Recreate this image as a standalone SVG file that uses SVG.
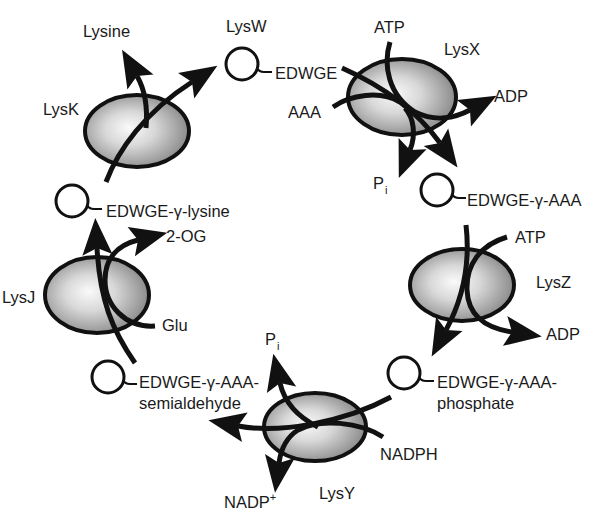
<svg xmlns="http://www.w3.org/2000/svg" width="600" height="520" viewBox="0 0 600 520">
<style>
text{font-family:"Liberation Sans",Arial,sans-serif;font-size:16.5px;fill:#1a1a1a}
.enz{fill:url(#g);stroke:#111;stroke-width:4}
.car{fill:#fff;stroke:#111;stroke-width:3}
.tail{fill:none;stroke:#111;stroke-width:2}
.ln{fill:none;stroke:#111;stroke-width:5}
.ar{marker-end:url(#ah)}
.sub{font-size:11px;fill:#1a1a1a}
</style>
<defs>
<radialGradient id="g" cx="0.45" cy="0.5" r="0.6" fx="0.42" fy="0.45">
<stop offset="0" stop-color="#fafafa"/>
<stop offset="0.4" stop-color="#d8d8d8"/>
<stop offset="1" stop-color="#7f7f7f"/>
</radialGradient>
<marker id="ah" markerUnits="userSpaceOnUse" markerWidth="44" markerHeight="40" viewBox="-2 -16 38 32" refX="6" refY="0" orient="auto">
<path d="M0,-13 L32,0 L0,13 L6,0 Z" fill="#111"/>
</marker>
</defs>

<g id="LysK"><ellipse class="enz" cx="137" cy="131" rx="52" ry="36"/><text x="43" y="115">LysK</text></g>
<g id="LysX"><ellipse class="enz" cx="402" cy="97" rx="54" ry="38"/><text x="444" y="55">LysX</text></g>
<g id="LysZ"><ellipse class="enz" cx="462" cy="285" rx="52" ry="36"/><text x="536" y="288">LysZ</text></g>
<g id="LysY"><ellipse class="enz" cx="315" cy="427" rx="51" ry="34"/><text x="319" y="499">LysY</text></g>
<g id="LysJ"><ellipse class="enz" cx="97" cy="295" rx="52" ry="38"/><text x="2" y="303">LysJ</text></g>

<g id="LysW"><circle class="car" cx="242" cy="64" r="16"/><path class="tail" d="M257,68 q2,4 7,4 h8"/><text x="226" y="32">LysW</text><text x="275" y="79">EDWGE</text></g>
<g id="EDWGE-AAA"><circle class="car" cx="437" cy="190" r="16"/><path class="tail" d="M452,194 q2,4 7,4 h7"/><text x="467" y="206">EDWGE-γ-AAA</text></g>
<g id="EDWGE-AAA-phosphate"><circle class="car" cx="404" cy="373" r="16"/><path class="tail" d="M419,377 q2,4 7,4 h8"/><text x="437" y="388">EDWGE-γ-AAA-</text><text x="437" y="409">phosphate</text></g>
<g id="EDWGE-AAA-semialdehyde"><circle class="car" cx="108" cy="377" r="16"/><path class="tail" d="M123,380 q2,4 7,4 h7"/><text x="139" y="388">EDWGE-γ-AAA-</text><text x="139" y="409">semialdehyde</text></g>
<g id="EDWGE-lysine"><circle class="car" cx="72" cy="201" r="16"/><path class="tail" d="M87,205 q2,4 7,4 h8"/><text x="106" y="217">EDWGE-γ-lysine</text></g>

<g id="connectors">
<!-- LysK -->
<path class="ln ar" d="M106,182 C118,150 145,112 192,82"/>
<path class="ln ar" d="M146,128 C148,106 145,90 137,76"/>
<text x="83" y="37">Lysine</text>
<!-- LysX -->
<path class="ln" d="M333,107 C350,95 380,90 400,102"/>
<path class="ln ar" d="M342,68 C378,84 415,108 440,143"/>
<path class="ln ar" d="M390,42 C383,65 388,95 415,112 C435,122 455,118 470,110"/>
<path class="ln ar" d="M405,108 C414,118 416,135 410,150"/>
<text x="374" y="33">ATP</text>
<text x="288" y="118">AAA</text>
<text x="494" y="102">ADP</text>
<text x="373" y="189">P<tspan class="sub" dx="1" dy="5">i</tspan></text>
<!-- LysZ -->
<path class="ln ar" d="M466,225 C470,260 465,295 446,330"/>
<path class="ln ar" d="M507,237 C480,245 466,265 467,290 C468,315 485,328 512,332"/>
<text x="515" y="243">ATP</text>
<text x="546" y="340">ADP</text>
<!-- LysY -->
<path class="ln ar" d="M391,397 C345,422 280,434 238,426"/>
<path class="ln ar" d="M383,437 C360,422 320,418 298,430 C287,437 281,448 279,463"/>
<path class="ln ar" d="M318,427 C300,418 285,405 280,383"/>
<text x="380" y="460">NADPH</text>
<text x="224" y="508">NADP<tspan class="sub" dy="-7">+</tspan></text>
<text x="265" y="345">P<tspan class="sub" dx="1" dy="5">i</tspan></text>
<!-- LysJ -->
<path class="ln ar" d="M135,363 C112,330 100,300 97,248"/>
<path class="ln ar" d="M155,326 C125,328 105,305 105,280 C105,258 118,245 138,240"/>
<text x="162" y="331">Glu</text>
<text x="166" y="242">2-OG</text>
</g>
</svg>
